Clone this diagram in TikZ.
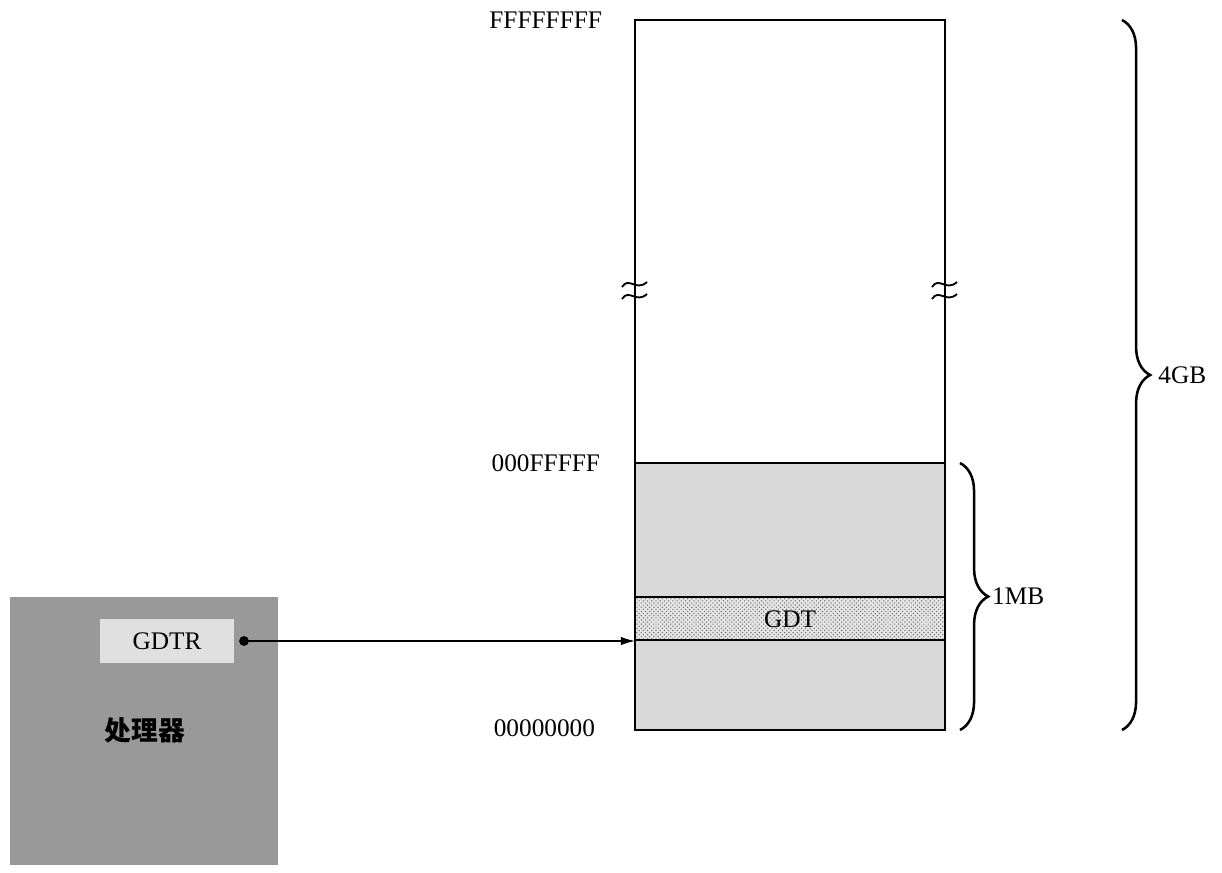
\documentclass[tikz,border=0pt]{standalone}
\usepackage{fontspec}
\setmainfont{Liberation Serif}
\newfontfamily\cjk{Noto Sans CJK SC}
\usetikzlibrary{decorations.pathreplacing,patterns,arrows.meta}

\begin{document}
\begin{tikzpicture}[x=0.025cm,y=-0.025cm,
  addr/.style={font=\fontsize{18}{20}\selectfont,anchor=east},
  memline/.style={line width=1.2pt},
  brc/.style={decorate,decoration={brace,amplitude=20pt},line width=1.8pt},
  lbl/.style={font=\fontsize{18}{20}\selectfont}]

\useasboundingbox (0,0) rectangle (1222,873);

% Draw the processor
\fill[fill=black!40] (10,597) rectangle (278,865);
\node[fill=black!12,minimum width=134*0.025cm,minimum height=44*0.025cm,inner sep=0pt,lbl] (gdtr) at (167,641) {GDTR\hspace{1.2em}};
\node[font=\cjk\bfseries\fontsize{19}{21}\selectfont] (cpu) at (145,730) {处理器};

% Draw the memory
\filldraw[fill=black!15,draw=black,memline] (635,463) rectangle (945,730);
\fill[fill=black!10] (635,597) rectangle (945,640);
\fill[pattern=crosshatch dots,pattern color=black!60] (635,597) rectangle (945,640);
\draw[memline] (635,597) rectangle (945,640);
\node[lbl] (gdt) at (790,619) {GDT};
\draw[memline] (635,463) -- (635,20) -- (945,20) -- (945,463);

% Draw the break marks
\foreach \bx in {635,945}{
  \draw[line width=1.3pt] (\bx-13,287) .. controls (\bx-6,276) and (\bx+1,292) .. (\bx+12,282);
  \draw[line width=1.3pt] (\bx-13,299) .. controls (\bx-6,288) and (\bx+1,304) .. (\bx+12,294);
}

% Draw the addresses
\node[addr] (top) at (607,20) {FFFFFFFF};
\node[addr] (mid) at (605,463) {000FFFFF};
\node[addr] (bot) at (600,728) {00000000};

% Draw the pointer
\coordinate (gdtbase) at (635,641);
\fill (244,641) circle (3.5pt);
\draw[-{Latex[length=10pt,width=6pt]},line width=1pt] (244,641) -- (gdtbase);

% Draw and label the braces
\draw[brc] (960,463) -- (960,730) node[midway,right=20pt,inner sep=2pt,lbl] (mb) {1MB};
\draw[brc] (1122,20) -- (1122,730) node[midway,right=20pt,inner sep=5pt,lbl] (gb) {4GB};

\end{tikzpicture}
\end{document}
